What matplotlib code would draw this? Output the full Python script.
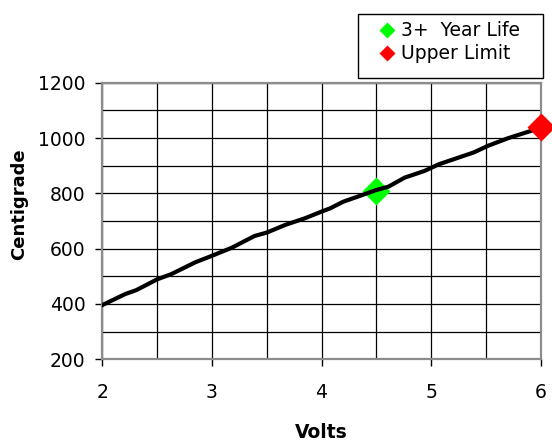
import matplotlib
matplotlib.use("Agg")
import matplotlib.pyplot as plt
from matplotlib.lines import Line2D
from matplotlib.patches import Rectangle

volts = [2.00, 2.21, 2.31, 2.50, 2.63, 2.85, 2.98, 3.18, 3.39, 3.50, 3.67, 3.85,
         4.00, 4.08, 4.20, 4.33, 4.50, 4.61, 4.76, 4.94, 5.07, 5.39, 5.52, 5.70, 6.00]
temps = [396, 436, 450, 489, 508, 551, 571, 603, 646, 658, 686, 710,
         734, 746, 770, 788, 812, 824, 857, 881, 905, 948, 972, 999, 1037]

life_x, life_y = [4.5], [810]
limit_x, limit_y = [6.0], [1040]
legend_labels = ["3+  Year Life", "Upper Limit"]

xticks = [2, 3, 4, 5, 6]
yticks = [200, 400, 600, 800, 1000, 1200]

W, H = 552, 440
plt.rcParams['font.family'] = ['DejaVu Sans']
fig = plt.figure(figsize=(W / 100, H / 100), dpi=100)

x0, x1, y0, y1 = 102.3, 540.7, 82.7, 359.3
ax = fig.add_axes([x0 / W, 1 - y1 / H, (x1 - x0) / W, (y1 - y0) / H])

ax.plot(volts, temps, color='black', lw=3.0, solid_joinstyle='round', zorder=3)
ax.plot(life_x, life_y, ls='none', marker='D', ms=14.5, color='#00ff00',
        mec='none', zorder=2, clip_on=False)
ax.plot(limit_x, limit_y, ls='none', marker='D', ms=14.5, color='#ff0000',
        mec='none', zorder=4, clip_on=False)

ax.set_xlim(2, 6)
ax.set_ylim(200, 1200)
ax.set_xticks(xticks)
ax.set_xticks([2.5, 3.5, 4.5, 5.5], minor=True)
ax.set_yticks(yticks)
ax.set_yticks([300, 500, 700, 900, 1100], minor=True)
ax.set_xticklabels([str(v) for v in xticks])
ax.set_yticklabels([str(v) for v in yticks])
ax.grid(True, which='both', color='black', lw=0.9)
ax.set_axisbelow(True)
ax.tick_params(which='major', direction='out', length=5, width=1, color='black',
               labelsize=13.5)
ax.tick_params(axis='x', which='major', pad=12)
ax.tick_params(axis='y', which='major', pad=7)
ax.tick_params(which='minor', length=0)
for s in ax.spines.values():
    s.set_color('#8c8c8c')
    s.set_linewidth(1.6)

fig.text(321.5 / W, 1 - 432 / H, 'Volts', ha='center', va='center',
         fontsize=13.5, fontweight='bold')
fig.text(19 / W, 1 - 204 / H, 'Centigrade', ha='center', va='center',
         rotation=90, fontsize=13, fontweight='bold')

# legend frame
bx0, bx1, by0, by1 = 358.3, 542.7, 14.0, 78.3
fig.patches.append(Rectangle((bx0 / W, 1 - by1 / H), (bx1 - bx0) / W, (by1 - by0) / H,
                             transform=fig.transFigure, fill=False,
                             edgecolor='black', lw=1.0))

handles = [Line2D([], [], ls='none', marker='D', ms=8, color='#00ff00', mec='none'),
           Line2D([], [], ls='none', marker='D', ms=8, color='#ff0000', mec='none')]
leg = fig.legend(handles, legend_labels, loc='upper left',
                 bbox_to_anchor=(378.3 / W, 1 - 21.4 / H), frameon=False,
                 fontsize=13.5, handlelength=0.9, handletextpad=0.3,
                 borderpad=0, labelspacing=0.2, borderaxespad=0)

fig.savefig('out.png', dpi=100)
